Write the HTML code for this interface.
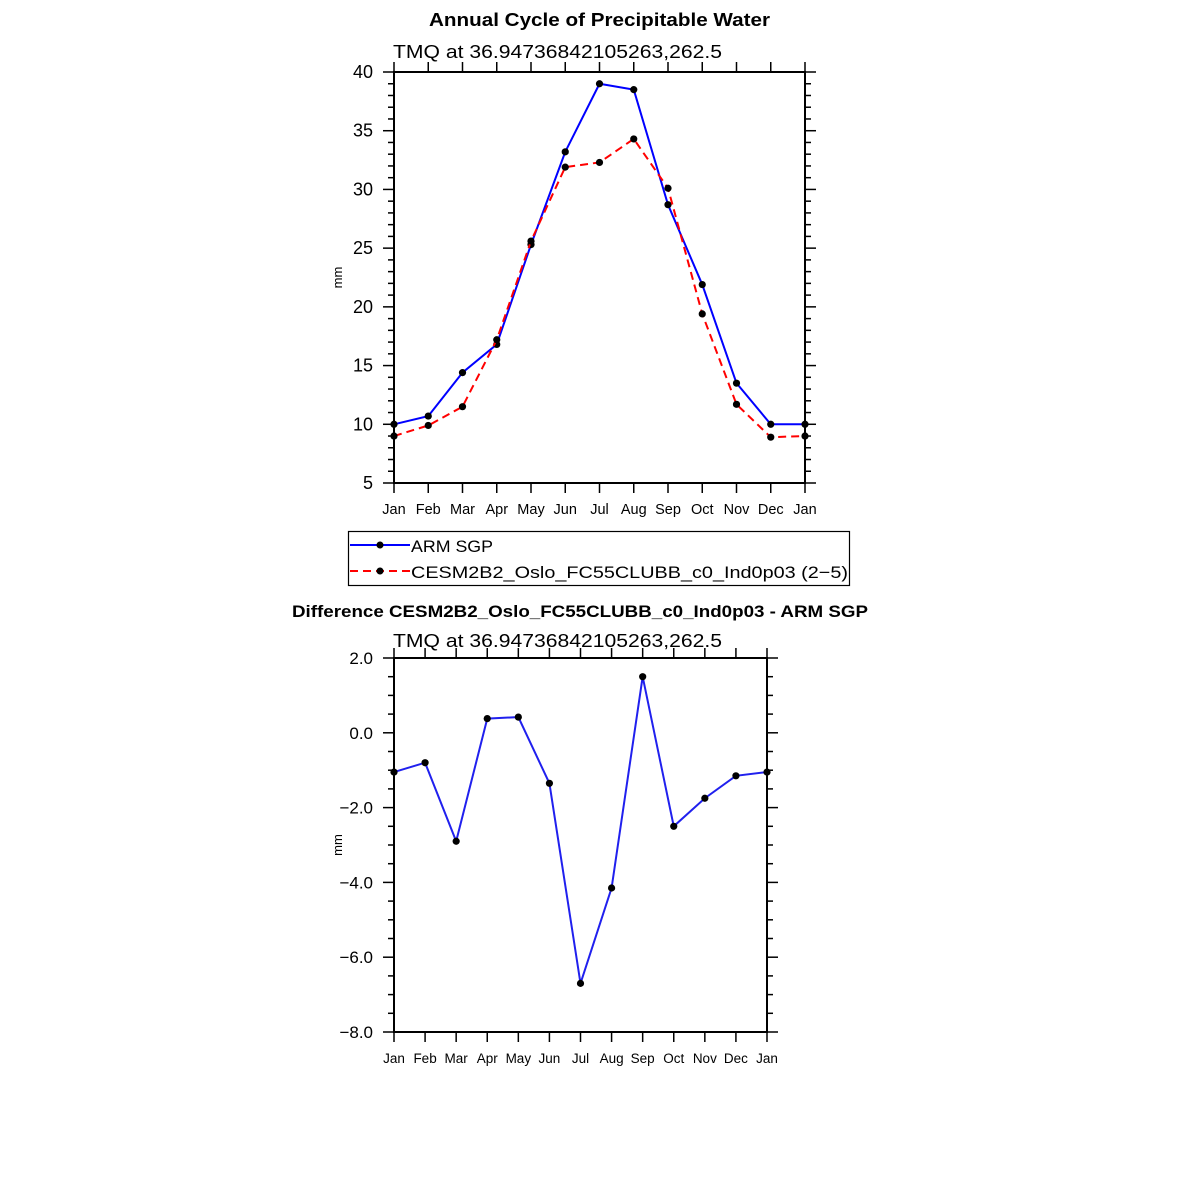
<!DOCTYPE html>
<html><head><meta charset="utf-8"><style>
html,body{margin:0;padding:0;background:#fff;}
svg{display:block;font-family:"Liberation Sans",sans-serif;}
</style></head><body>
<svg id="chart" width="1183" height="1183" viewBox="0 0 1183 1183" xmlns="http://www.w3.org/2000/svg">
<rect width="1183" height="1183" fill="#fff"/>
<text x="429" y="26" font-size="18" font-weight="bold" textLength="341" lengthAdjust="spacingAndGlyphs">Annual Cycle of Precipitable Water</text>
<text x="393" y="58" font-size="18" textLength="329" lengthAdjust="spacingAndGlyphs">TMQ  at  36.94736842105263,262.5</text>
<text x="292" y="617" font-size="17" font-weight="bold" textLength="576" lengthAdjust="spacingAndGlyphs">Difference CESM2B2_Oslo_FC55CLUBB_c0_Ind0p03 - ARM SGP</text>
<text x="393" y="647" font-size="18" textLength="329" lengthAdjust="spacingAndGlyphs">TMQ  at  36.94736842105263,262.5</text>
<g id="top"></g><g id="bot"></g>
<g>
<rect x="348.5" y="531.5" width="501" height="54" fill="#fff" stroke="#000" stroke-width="1.2"/>
<line x1="350" y1="545" x2="410" y2="545" stroke="#00f" stroke-width="2"/>
<circle cx="380" cy="545" r="3.5"/>
<text x="411" y="552" font-size="17" textLength="82" lengthAdjust="spacingAndGlyphs">ARM  SGP</text>
<line x1="350" y1="571" x2="410" y2="571" stroke="#f00" stroke-width="2" stroke-dasharray="8,5"/>
<circle cx="380" cy="571" r="3.5"/>
<text x="411" y="578" font-size="17" textLength="437" lengthAdjust="spacingAndGlyphs">CESM2B2_Oslo_FC55CLUBB_c0_Ind0p03 (2−5)</text>
</g>
</svg>
<script>
const months = ["Jan","Feb","Mar","Apr","May","Jun","Jul","Aug","Sep","Oct","Nov","Dec","Jan"];
const armSGP = [10.0,10.7,14.4,16.8,25.3,33.2,39.0,38.5,28.7,21.9,13.5,10.0,10.0];
const cesm = [9.0,9.9,11.5,17.2,25.6,31.9,32.3,34.3,30.1,19.4,11.7,8.9,9.0];
const diff = [-1.05,-0.8,-2.9,0.38,0.42,-1.35,-6.7,-4.15,1.5,-2.5,-1.75,-1.15,-1.05];
const topTicks = [5,10,15,20,25,30,35,40];
const topTickLabels = ["5","10","15","20","25","30","35","40"];
const botTicks = [-8,-6,-4,-2,0,2];
const botTickLabels = ["−8.0","−6.0","−4.0","−2.0","0.0","2.0"];

const NS="http://www.w3.org/2000/svg";
function mk(parent,tag,attrs){const e=document.createElementNS(NS,tag);for(const k in attrs)e.setAttribute(k,attrs[k]);parent.appendChild(e);return e;}

function panel(g,L,R,T,B,ymin,ymax,ticks,labels,minorStep,fs,xfs,prefix){
  const sx=i=>L+(R-L)*i/(months.length-1);
  const sy=v=>B-(B-T)*(v-ymin)/(ymax-ymin);
  const ax=mk(g,"g",{});
  
  
  mk(ax,"rect",{x:L,y:T,width:R-L,height:B-T,fill:"none",stroke:"#000","stroke-width":2});
  for(let v=ymin;v<=ymax+1e-9;v+=minorStep){
    const y=sy(v);const major=ticks.some(t=>Math.abs(t-v)<1e-6);const len=major?11:6;
    mk(ax,"line",{x1:L-len,y1:y,x2:L,y2:y,stroke:"#000","stroke-width":1.5});
    mk(ax,"line",{x1:R,y1:y,x2:R+len,y2:y,stroke:"#000","stroke-width":1.5});
  }
  ticks.forEach((t,i)=>{
    const tx=mk(ax,"text",{x:L-21,y:sy(t)+6,"text-anchor":"end","font-size":fs});
    tx.textContent=labels[i];
    
    
  });
  months.forEach((m,i)=>{
    const x=sx(i);
    mk(ax,"line",{x1:x,y1:B,x2:x,y2:B+10,stroke:"#000","stroke-width":1.5});
    mk(ax,"line",{x1:x,y1:T-10,x2:x,y2:T,stroke:"#000","stroke-width":1.5});
    const tx=mk(ax,"text",{x:x,y:B+31,"text-anchor":"middle","font-size":xfs});
    tx.textContent=m;
    
    
  });
  const yl=mk(ax,"text",{x:0,y:0,"text-anchor":"middle","font-size":13,transform:`translate(${L-52},${(T+B)/2}) rotate(-90)`});
  yl.textContent="mm";
  
  
  return {sx,sy};
}
function series(g,vals,sx,sy,color,dash,name){
  const s=mk(g,"g",{});
  
  
  const pts=vals.map((v,i)=>sx(i)+","+sy(v)).join(" ");
  const a={points:pts,fill:"none",stroke:color,"stroke-width":2};
  if(dash)a["stroke-dasharray"]=dash;
  mk(s,"polyline",a);
  vals.forEach((v,i)=>{const c=mk(s,"circle",{cx:sx(i),cy:sy(v),r:3.6,fill:"#000"});
    
    });
}
const gt=document.getElementById("top");
const p1=panel(gt,394,805,72,483,5,40,topTicks,topTickLabels,1,18,14.5,"top");
series(gt,armSGP,p1.sx,p1.sy,"#0000ff",null,"arm-sgp-series");
series(gt,cesm,p1.sx,p1.sy,"#ff0000","8,5","cesm-series");
const gb=document.getElementById("bot");
const p2=panel(gb,394,767,658,1032,-8,2,botTicks,botTickLabels,0.5,17,13.5,"bottom");
series(gb,diff,p2.sx,p2.sy,"#2020ee",null,"difference-series");
</script>
</body></html>
